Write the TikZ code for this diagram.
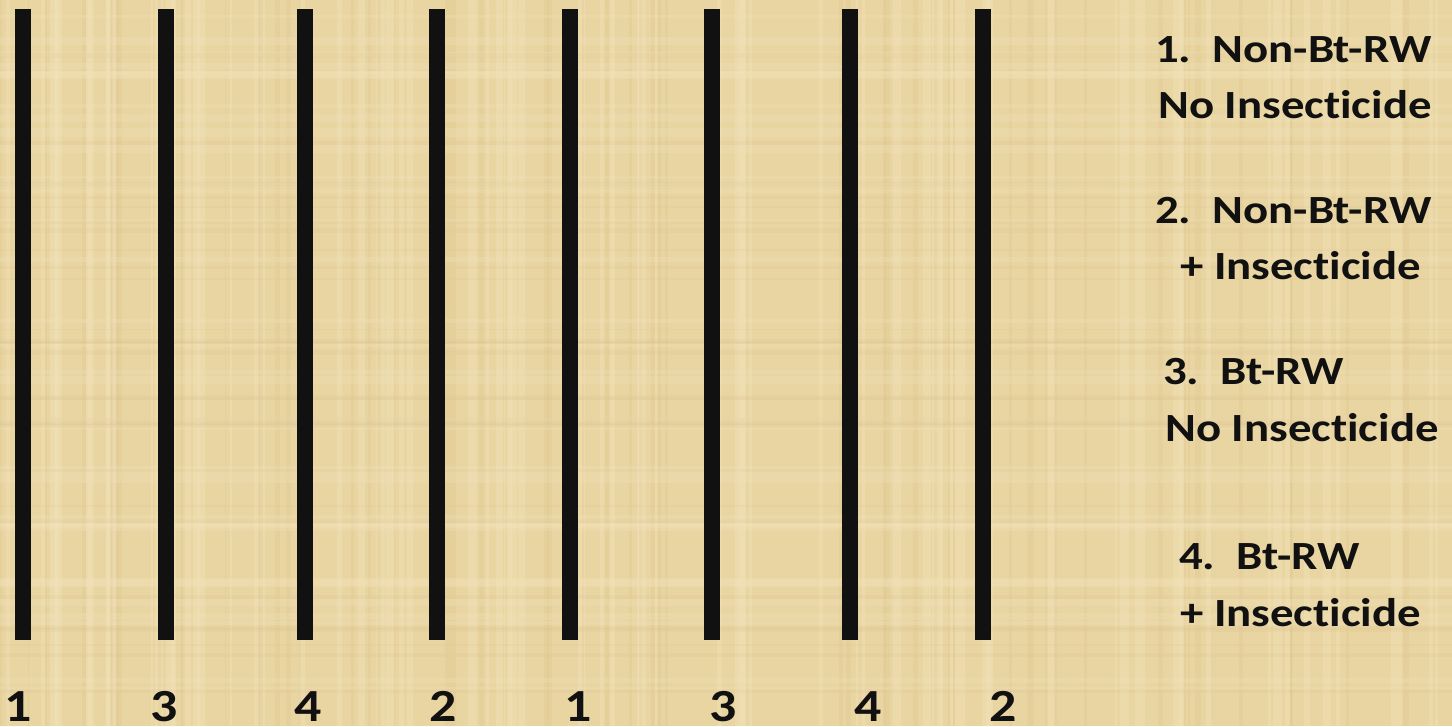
\documentclass[tikz,border=0pt]{standalone}
\usepackage{fontspec}
\setmainfont{Carlito}
\newfontfamily\plotfont[FakeStretch=1.17,Ligatures=NoCommon]{Carlito}
\usepackage{xcolor}
\usepackage{tikz}
\usetikzlibrary{positioning}
\definecolor{papyrus}{HTML}{E9D5A2}
\definecolor{papyruslight}{HTML}{F3E4BC}
\definecolor{papyrusdark}{HTML}{D6BC84}
\definecolor{ink}{HTML}{111111}
\tikzset{
  rowbar/.style={
    fill=ink,
    draw=none,
    inner sep=0pt,
    minimum width=16,
    minimum height=631,
    anchor=north,
  },
  rowlabel/.style={
    font=\plotfont\bfseries\fontsize{46}{50}\selectfont,
    text=ink,
    inner sep=0pt,
    anchor=base,
  },
  legend/.style={
    font=\plotfont\bfseries\fontsize{40}{44}\selectfont,
    text=ink,
    inner sep=0pt,
    anchor=base west,
  },
}

\begin{document}
\begin{tikzpicture}[x=1pt,y=1pt]
  \useasboundingbox (0,0) rectangle (1452,726);
  \fill[papyrus] (0,0) rectangle (1452,726);

  % papyrus fibres
  \pgfmathsetseed{7}
  \foreach \k in {1,...,70} {
    \pgfmathsetmacro{\fx}{rnd*1452}
    \pgfmathsetmacro{\fw}{2+rnd*9}
    \fill[papyruslight, opacity=0.35] (\fx,0) rectangle (\fx+\fw,726);
  }
  \foreach \k in {1,...,60} {
    \pgfmathsetmacro{\fx}{rnd*1452}
    \pgfmathsetmacro{\fw}{1+rnd*5}
    \fill[papyrusdark, opacity=0.2] (\fx,0) rectangle (\fx+\fw,726);
  }
  \foreach \k in {1,...,35} {
    \pgfmathsetmacro{\fy}{rnd*726}
    \pgfmathsetmacro{\fh}{2+rnd*7}
    \fill[papyruslight, opacity=0.25] (0,\fy) rectangle (1452,\fy+\fh);
  }
  \foreach \k in {1,...,30} {
    \pgfmathsetmacro{\fy}{rnd*726}
    \pgfmathsetmacro{\fh}{1+rnd*4}
    \fill[papyrusdark, opacity=0.12] (0,\fy) rectangle (1452,\fy+\fh);
  }

  % rows and their treatment numbers
  \foreach \i/\x/\lx/\t in {
    1/23/18/1,
    2/166/164/3,
    3/305/308/4,
    4/437/443/2,
    5/570/578/1,
    6/712/723/3,
    7/850/868/4,
    8/983/1003/2} {
    \node[rowbar] (bar\i) at (\x,717) {};
    \node[rowlabel] (num\i) at (\lx,5) {\t};
  }

  % legend
  \node[legend] (leg1a) at (1155,663) {1.\ \ Non-Bt-RW};
  \node[legend] (leg1b) at (1158,607) {No Insecticide};
  \node[legend] (leg2a) at (1155,502) {2.\ \ Non-Bt-RW};
  \node[legend] (leg2b) at (1180,446) {+ Insecticide};
  \node[legend] (leg3a) at (1163,341) {3.\ \ Bt-RW};
  \node[legend] (leg3b) at (1165,284) {No Insecticide};
  \node[legend] (leg4a) at (1179,156) {4.\ \ Bt-RW};
  \node[legend] (leg4b) at (1180,99) {+ Insecticide};
\end{tikzpicture}
\end{document}
